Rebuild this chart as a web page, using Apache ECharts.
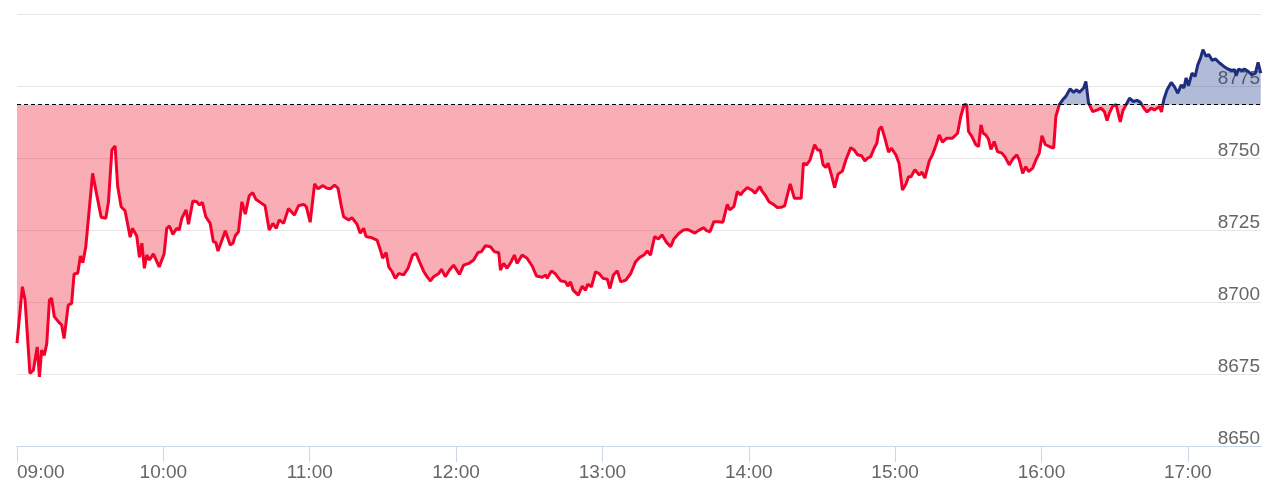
<!DOCTYPE html>
<html>
<head>
<meta charset="utf-8">
<script src="https://cdn.jsdelivr.net/npm/echarts@6/dist/echarts.min.js"></script>
<style>html,body{margin:0;padding:0;background:#fff}#c{width:1281px;height:489px}</style>
</head>
<body>
<div id="c"></div>
<script>
// Session: 09:00 – 17:30, x values are minutes after 09:00
const tickLabels = ['09:00','10:00','11:00','12:00','13:00','14:00','15:00','16:00','17:00'];
const tickMinutes = [0,60,120,180,240,300,360,420,480];
const previousClose = 8768.5;
const yMin = 8650, yMax = 8800, yStep = 25;

const minutes = [
0,2.2,3.3,5.3,6.7,8.3,9.2,10.1,11.2,12.2,13.3,14.2,15.3,17.0,18.3,19.3,21.0,22.4,23.4,24.9,26.0,27.0,28.2,31.0,32.7,34.5,36.4,37.5,38.9,40.2,41.3,42.7,44.3,46.4,47.3,49.1,50.2,51.2,52.2,53.2,54.3,55.9,58.3,60.3,61.4,62.5,63.9,65.5,66.5,67.6,69.3,70.3,72.1,73.7,74.8,76.0,77.4,79.2,80.5,81.5,82.4,83.3,85.4,87.4,88.5,89.5,90.8,92.2,93.6,95.2,96.6,97.9,99.7,101.7,103.4,104.9,106.3,107.5,109.3,111.3,113.7,115.4,117.5,118.6,120.2,122.0,123.4,125.3,127.1,128.4,130.2,131.6,133.0,133.9,136.0,137.3,139.4,140.7,142.1,143.1,145.5,147.6,149.0,149.9,151.3,152.4,153.8,155.1,156.5,158.5,160.3,162.2,163.6,165.0,166.7,168.1,169.5,170.8,172.9,174.0,175.6,177.3,179.0,181.4,183.1,185.2,187.2,189.0,190.4,192.0,194.1,195.7,197.5,198.2,199.5,200.9,202.6,203.9,205.0,207.1,209.1,211.2,213.0,215.3,216.7,217.4,219.1,220.8,222.8,224.9,225.8,226.9,228.0,230.1,231.7,233.1,234.0,235.5,237.2,238.6,240.3,242.0,243.1,244.5,246.1,247.5,249.6,251.6,253.6,255.3,257.0,258.4,259.7,261.4,262.9,264.5,266.3,268.0,269.3,271.4,273.2,274.8,276.2,277.9,279.3,281.4,282.7,284.1,285.7,287.5,289.4,290.2,291.2,292.2,293.9,295.3,296.7,297.6,299.4,301.2,302.6,304.5,305.6,306.9,308.3,310.1,311.7,313.4,314.7,315.5,317.0,318.7,320.0,321.5,322.4,323.7,325.1,327.0,328.2,329.3,330.5,331.6,332.5,333.9,335.2,336.6,338.4,339.8,341.8,343.2,344.6,346.2,347.6,348.7,350.0,351.4,352.5,353.4,354.4,355.8,357.3,358.5,360.3,361.6,363.0,364.4,365.5,366.5,368.1,369.9,371.0,372.2,374.0,375.3,376.4,378.1,379.4,381.2,383.5,385.6,386.9,388.3,389.3,390.1,391.5,393.1,394.2,395.2,396.1,397.2,398.3,399.3,400.6,402.0,403.8,405.1,406.8,408.2,409.9,410.9,412.3,413.6,414.7,416.4,417.7,419.1,420.2,421.6,423.2,425.0,425.9,427.3,428.7,430.0,431.7,433.2,434.4,435.5,437.3,438.2,439.3,441.0,443.0,444.4,445.8,446.9,447.8,449.2,450.6,452.3,453.4,454.7,456.1,457.7,459.2,460.6,462.0,463.3,465.0,466.3,468.4,469.2,470.2,471.5,473.2,474.5,475.9,477.3,478.4,479.3,480.3,481.7,483.0,484.1,485.2,486.2,487.5,488.6,490.0,491.3,493.0,494.8,496.4,498.1,499.2,499.8,500.8,502.2,503.2,504.7,506.3,507.7,508.8,509.6,509.9
];
const prices = [
8685.7,8705.3,8700.7,8675.2,8676.3,8684.4,8674.0,8683.3,8681.5,8685.6,8700.7,8701.3,8694.9,8693.1,8692.0,8687.3,8698.9,8699.5,8709.7,8710.0,8716.0,8713.6,8719.2,8744.7,8737.2,8729.4,8729.1,8734.8,8752.8,8754.2,8740.0,8733.1,8731.7,8722.5,8725.6,8722.9,8715.5,8720.4,8711.7,8716.3,8714.6,8716.7,8712.2,8716.7,8725.6,8726.4,8723.5,8725.6,8725.0,8729.1,8732.0,8727.0,8735.1,8734.8,8733.7,8734.6,8729.6,8727.3,8720.9,8720.7,8717.7,8719.8,8724.7,8719.8,8720.4,8723.0,8724.4,8734.8,8730.5,8736.9,8738.0,8735.7,8734.6,8733.4,8725.0,8727.3,8725.6,8728.5,8727.3,8732.5,8730.2,8733.4,8733.9,8733.1,8727.7,8741.0,8739.3,8740.4,8739.5,8739.3,8740.6,8739.5,8733.1,8729.6,8728.5,8729.3,8727.0,8723.9,8725.6,8722.7,8722.3,8721.5,8718.0,8715.2,8717.2,8712.2,8710.5,8708.2,8709.9,8709.4,8711.7,8716.3,8716.9,8714.0,8710.7,8708.8,8707.3,8708.8,8709.9,8711.4,8708.8,8711.1,8712.8,8709.6,8712.8,8713.4,8714.6,8717.2,8717.5,8719.5,8719.2,8717.5,8717.1,8711.1,8713.4,8711.7,8714.0,8716.3,8713.4,8716.3,8715.2,8712.5,8709.0,8708.6,8709.4,8708.2,8710.8,8709.7,8707.4,8707.0,8705.5,8707.0,8704.1,8702.4,8705.5,8704.1,8706.2,8705.3,8710.5,8709.9,8708.2,8707.9,8704.7,8709.4,8710.8,8707.0,8707.6,8709.9,8714.0,8715.5,8716.3,8717.7,8716.3,8722.7,8721.9,8723.3,8720.7,8719.2,8721.9,8723.9,8725.0,8725.2,8724.7,8723.9,8724.8,8725.8,8724.8,8724.4,8727.9,8727.9,8727.7,8730.5,8733.9,8732.0,8733.1,8738.3,8737.2,8738.3,8739.7,8738.9,8737.8,8740.1,8738.3,8736.9,8734.8,8733.9,8732.8,8732.9,8733.4,8732.8,8741.0,8736.0,8736.0,8736.0,8748.2,8747.6,8749.3,8754.6,8752.8,8752.8,8747.6,8746.7,8748.2,8744.1,8739.7,8744.4,8745.5,8749.3,8753.6,8752.8,8751.1,8750.8,8749.0,8749.9,8750.5,8753.4,8755.1,8759.8,8760.9,8756.9,8752.0,8753.4,8751.1,8748.2,8738.9,8740.9,8743.5,8743.5,8745.9,8744.1,8745.1,8743.0,8749.0,8751.1,8753.6,8758.0,8755.5,8756.9,8756.9,8758.6,8764.4,8768.5,8768.5,8759.2,8757.4,8754.6,8754.0,8761.5,8758.6,8758.0,8756.5,8753.0,8755.7,8752.2,8751.7,8750.3,8747.6,8749.6,8751.1,8749.3,8744.7,8747.0,8745.3,8746.5,8749.3,8751.7,8757.7,8754.6,8754.0,8753.4,8764.4,8768.5,8770.2,8771.4,8774.0,8772.8,8773.7,8772.8,8774.3,8776.6,8769.1,8766.1,8766.7,8767.3,8766.1,8763.0,8765.5,8768.0,8768.5,8762.5,8766.5,8768.5,8770.8,8769.6,8770.0,8769.3,8767.3,8766.0,8767.3,8766.7,8767.9,8766.0,8770.4,8773.7,8776.2,8774.8,8772.5,8775.4,8774.3,8777.8,8775.1,8779.5,8778.3,8782.4,8784.7,8787.6,8785.3,8785.9,8783.9,8784.4,8783.0,8781.8,8780.9,8780.4,8780.7,8778.6,8780.9,8780.4,8780.9,8780.1,8778.9,8779.5,8783.2,8782.8,8779.5
];

const data = minutes.map((m, i) => [m, prices[i]]);
const FONT = '"Liberation Sans", Arial, Helvetica, sans-serif';
const lowBound = yMin - 100, highBound = yMax + 100;
const chart = echarts.init(document.getElementById('c'), null, {renderer: 'canvas'});
chart.setOption({
  animation: false,
  textStyle: {fontFamily: FONT},
  grid: {left: 17, right: 20, top: 14, bottom: 43},
  xAxis: {
    type: 'value', min: 0, max: 510,
    axisLine: {lineStyle: {color: '#ccd6eb', width: 1}},
    axisTick: {customValues: tickMinutes, length: 16, lineStyle: {color: '#ccd6eb'}},
    axisLabel: {
      customValues: tickMinutes,
      formatter: v => tickLabels[tickMinutes.indexOf(v)],
      color: '#666666', fontSize: 19, fontFamily: FONT, margin: 17,
      alignMinLabel: 'left'
    },
    splitLine: {show: false}
  },
  yAxis: {
    type: 'value', position: 'right', min: yMin, max: yMax, interval: yStep,
    axisLine: {show: false}, axisTick: {show: false},
    axisLabel: {inside: true, margin: 1, verticalAlign: 'bottom', lineHeight: 14, color: '#666666',
                fontSize: 19, fontFamily: FONT, showMaxLabel: false,
                formatter: v => String(v)},
    splitLine: {lineStyle: {color: '#e6e6e6', width: 1}}
  },
  visualMap: [
    {type: 'piecewise', show: false, seriesIndex: 0, dimension: 1,
     pieces: [{gte: lowBound, lte: previousClose, color: 'rgba(235,0,25,0.32)'},
              {gt: previousClose, lte: highBound, color: 'rgba(30,60,140,0.35)'}]},
    {type: 'piecewise', show: false, seriesIndex: 1, dimension: 1,
     pieces: [{gte: lowBound, lte: previousClose, color: '#f4002c'},
              {gt: previousClose, lte: highBound, color: '#1f2d7f'}]}
  ],
  series: [
    {type: 'line', data: data, symbol: 'none', silent: true, z: 1,
     lineStyle: {width: 0}, areaStyle: {origin: previousClose, opacity: 1}},
    {type: 'line', data: data, symbol: 'none', silent: true, z: 3,
     lineStyle: {width: 3},
     markLine: {silent: true, symbol: 'none', label: {show: false},
       lineStyle: {color: '#000000', type: [4, 3], width: 1},
       data: [{yAxis: previousClose}]}}
  ]
});
</script>
</body>
</html>
